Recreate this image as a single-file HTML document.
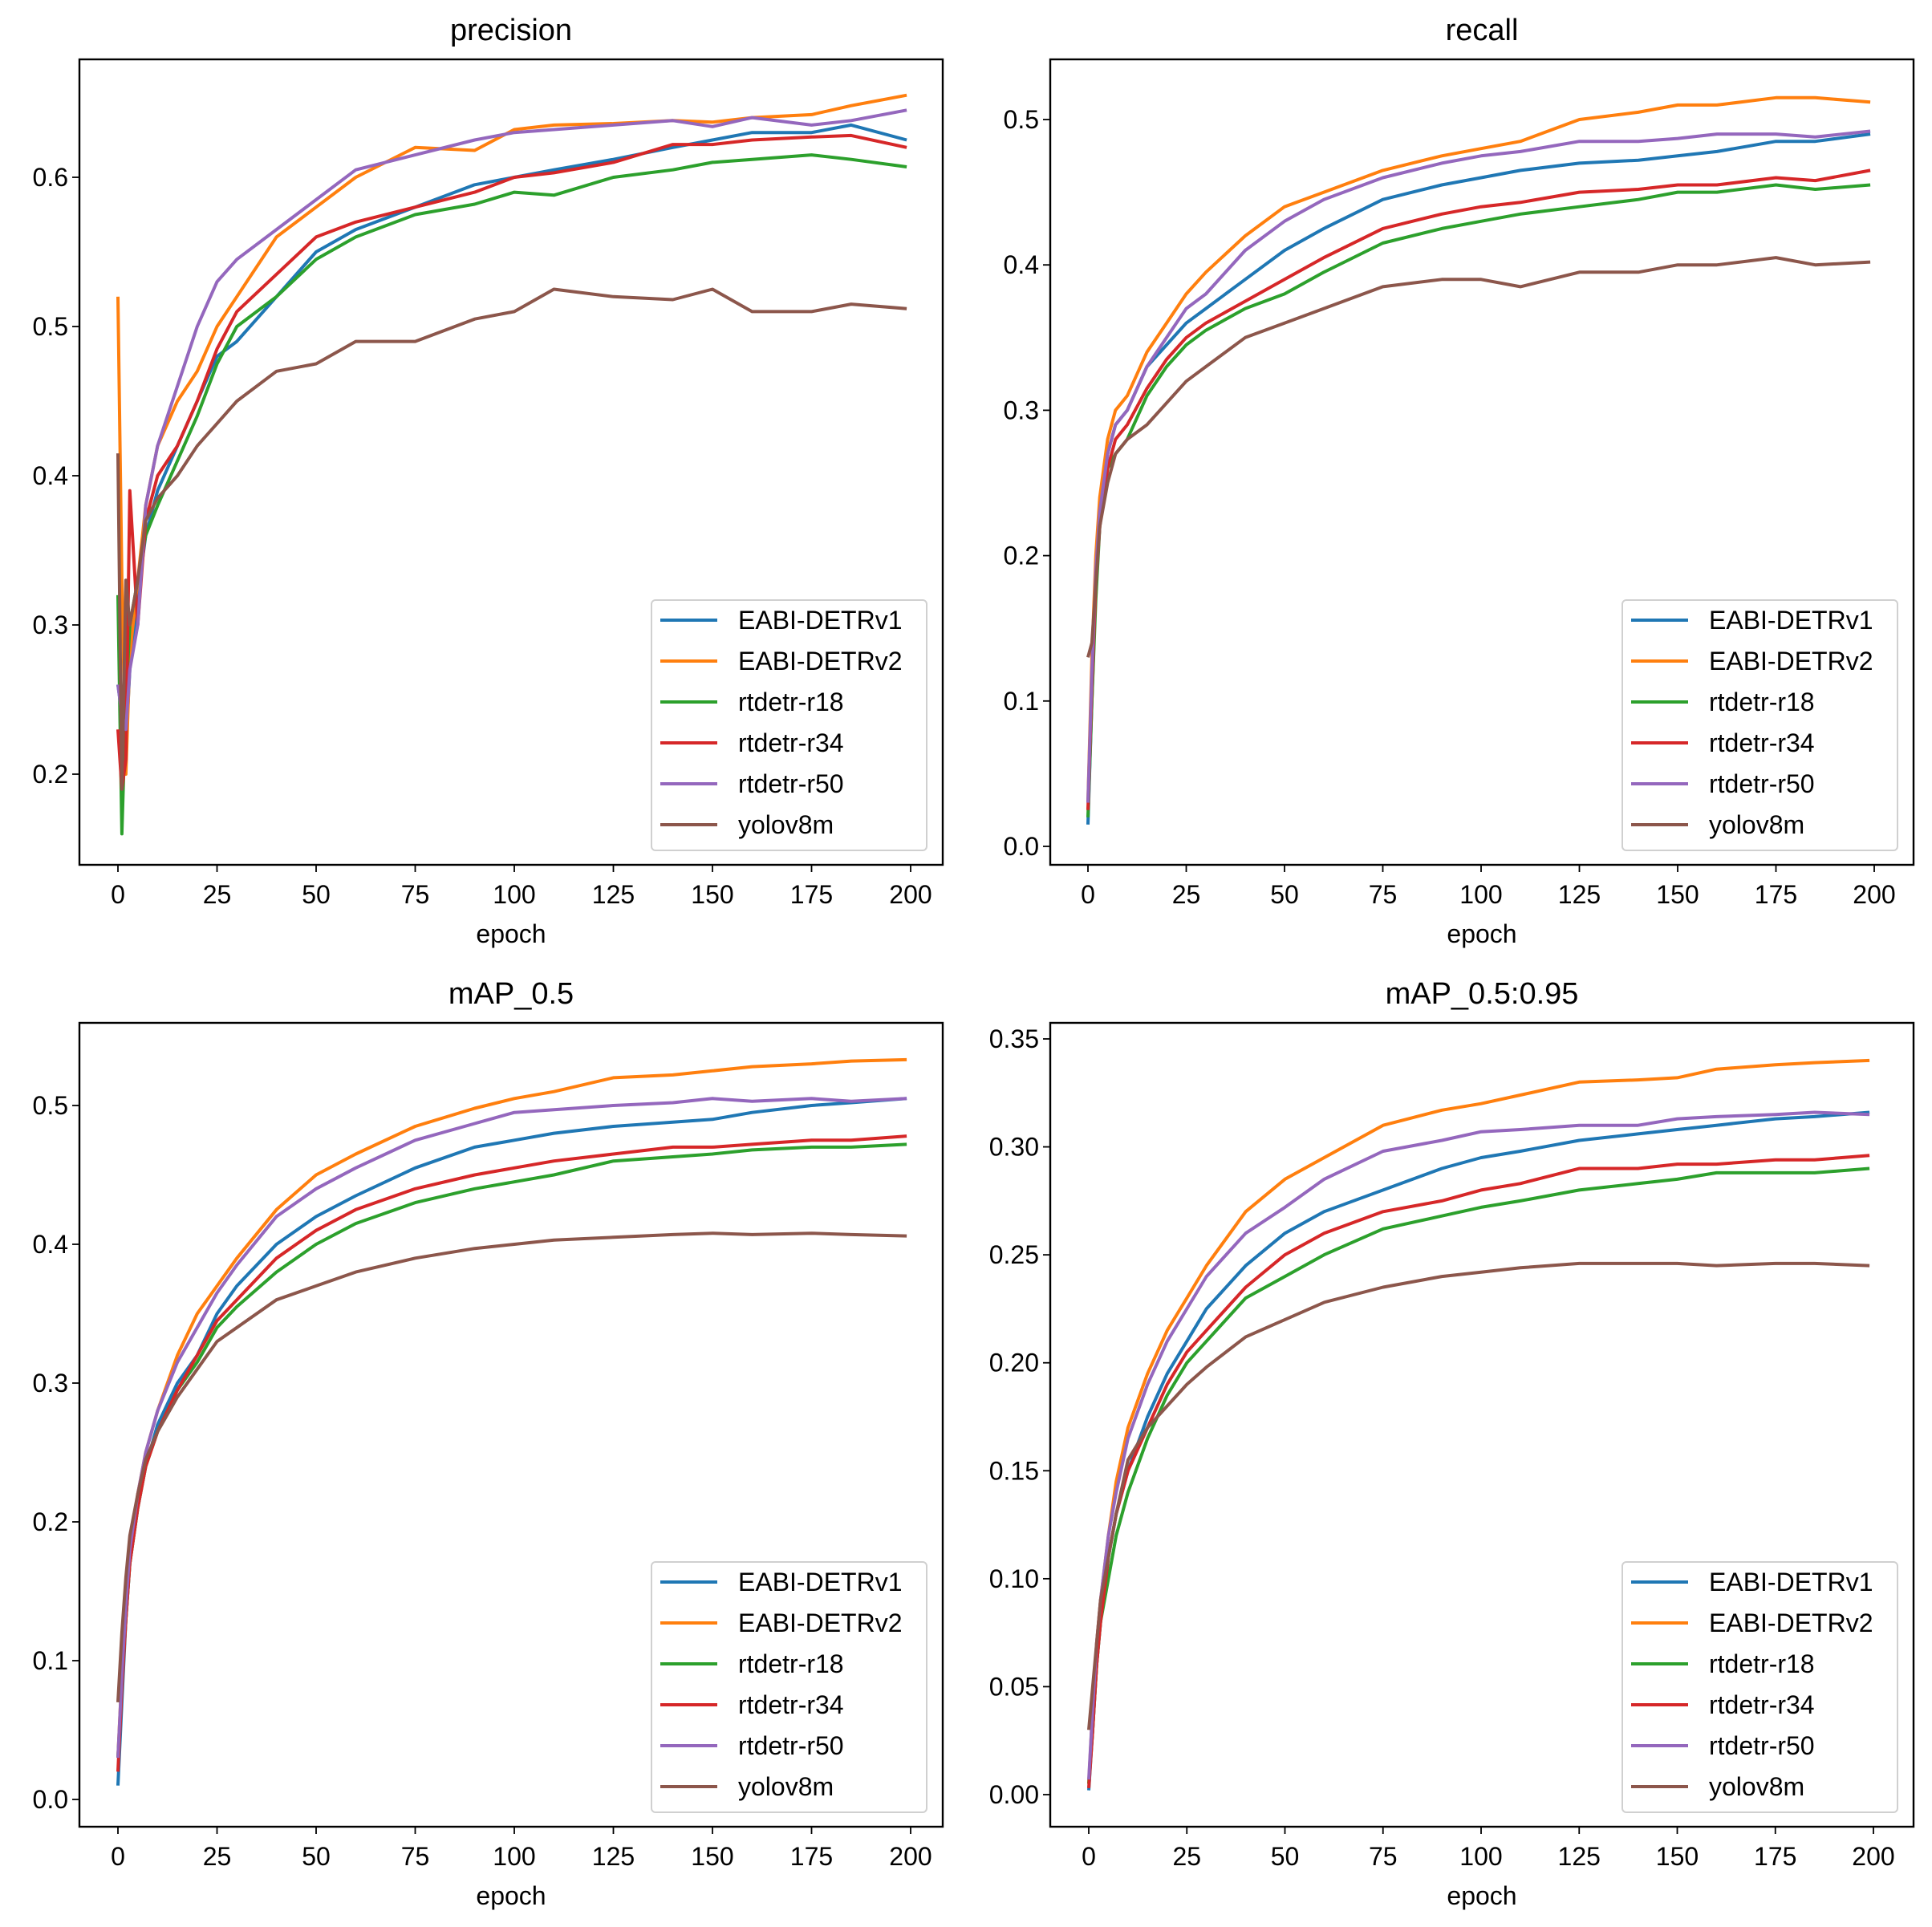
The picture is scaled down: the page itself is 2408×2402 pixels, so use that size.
<!DOCTYPE html>
<html><head><meta charset="utf-8">
<style>
body{margin:0;background:#fff;}
svg{display:block;font-family:"Liberation Sans","DejaVu Sans",sans-serif;}
</style></head>
<body>
<svg id="fig" width="2408" height="2402" viewBox="0 0 2408 2402" xmlns="http://www.w3.org/2000/svg"></svg>
<script>
const epochs=[0,1,2,3,5,7,10,15,20,25,30,40,50,60,75,90,100,110,125,140,150,160,175,185,199];
const seriesNames=["EABI-DETRv1","EABI-DETRv2","rtdetr-r18","rtdetr-r34","rtdetr-r50","yolov8m"];
const xTicks=[0,25,50,75,100,125,150,175,200];

const precision_v1=[0.26,0.24,0.22,0.27,0.32,0.36,0.39,0.42,0.45,0.48,0.49,0.52,0.55,0.565,0.58,0.595,0.60,0.605,0.612,0.62,0.625,0.63,0.63,0.635,0.625];
const precision_v2=[0.52,0.33,0.20,0.28,0.33,0.38,0.42,0.45,0.47,0.50,0.52,0.56,0.58,0.60,0.62,0.618,0.632,0.635,0.636,0.638,0.637,0.64,0.642,0.648,0.655];
const precision_r18=[0.32,0.16,0.25,0.30,0.33,0.36,0.38,0.41,0.44,0.475,0.50,0.52,0.545,0.56,0.575,0.582,0.59,0.588,0.60,0.605,0.61,0.612,0.615,0.612,0.607];
const precision_r34=[0.23,0.19,0.21,0.39,0.30,0.37,0.40,0.42,0.45,0.485,0.51,0.535,0.56,0.57,0.58,0.59,0.60,0.603,0.61,0.622,0.622,0.625,0.627,0.628,0.62];
const precision_r50=[0.26,0.24,0.23,0.27,0.30,0.38,0.42,0.46,0.50,0.53,0.545,0.565,0.585,0.605,0.615,0.625,0.63,0.632,0.635,0.638,0.634,0.64,0.635,0.638,0.645];
const precision_yolo=[0.415,0.19,0.33,0.30,0.33,0.37,0.385,0.40,0.42,0.435,0.45,0.47,0.475,0.49,0.49,0.505,0.51,0.525,0.52,0.518,0.525,0.51,0.51,0.515,0.512];
const precisionTicks=["0.2","0.3","0.4","0.5","0.6"];

const recall_v1=[0.015,0.1,0.18,0.23,0.27,0.29,0.30,0.33,0.345,0.36,0.37,0.39,0.41,0.425,0.445,0.455,0.46,0.465,0.47,0.472,0.475,0.478,0.485,0.485,0.49];
const recall_v2=[0.03,0.13,0.2,0.24,0.28,0.30,0.31,0.34,0.36,0.38,0.395,0.42,0.44,0.45,0.465,0.475,0.48,0.485,0.5,0.505,0.51,0.51,0.515,0.515,0.512];
const recall_r18=[0.02,0.1,0.17,0.22,0.26,0.27,0.28,0.31,0.33,0.345,0.355,0.37,0.38,0.395,0.415,0.425,0.43,0.435,0.44,0.445,0.45,0.45,0.455,0.452,0.455];
const recall_r34=[0.025,0.11,0.18,0.22,0.26,0.28,0.29,0.315,0.335,0.35,0.36,0.375,0.39,0.405,0.425,0.435,0.44,0.443,0.45,0.452,0.455,0.455,0.46,0.458,0.465];
const recall_r50=[0.03,0.12,0.19,0.23,0.27,0.29,0.30,0.33,0.35,0.37,0.38,0.41,0.43,0.445,0.46,0.47,0.475,0.478,0.485,0.485,0.487,0.49,0.49,0.488,0.492];
const recall_yolo=[0.13,0.14,0.18,0.22,0.25,0.27,0.28,0.29,0.305,0.32,0.33,0.35,0.36,0.37,0.385,0.39,0.39,0.385,0.395,0.395,0.4,0.40,0.405,0.40,0.402];
const recallTicks=["0.0","0.1","0.2","0.3","0.4","0.5"];

const map50_v1=[0.01,0.07,0.13,0.17,0.21,0.24,0.27,0.30,0.32,0.35,0.37,0.40,0.42,0.435,0.455,0.47,0.475,0.48,0.485,0.488,0.49,0.495,0.50,0.502,0.505];
const map50_v2=[0.03,0.09,0.14,0.18,0.22,0.25,0.28,0.32,0.35,0.37,0.39,0.425,0.45,0.465,0.485,0.498,0.505,0.51,0.52,0.522,0.525,0.528,0.53,0.532,0.533];
const map50_r18=[0.03,0.08,0.13,0.17,0.21,0.24,0.265,0.295,0.315,0.34,0.355,0.38,0.40,0.415,0.43,0.44,0.445,0.45,0.46,0.463,0.465,0.468,0.47,0.47,0.472];
const map50_r34=[0.02,0.08,0.13,0.17,0.21,0.24,0.265,0.295,0.32,0.345,0.36,0.39,0.41,0.425,0.44,0.45,0.455,0.46,0.465,0.47,0.47,0.472,0.475,0.475,0.478];
const map50_r50=[0.03,0.09,0.14,0.18,0.22,0.25,0.28,0.315,0.34,0.365,0.385,0.42,0.44,0.455,0.475,0.487,0.495,0.497,0.5,0.502,0.505,0.503,0.505,0.503,0.505];
const map50_yolo=[0.07,0.12,0.16,0.19,0.22,0.245,0.265,0.29,0.31,0.33,0.34,0.36,0.37,0.38,0.39,0.397,0.40,0.403,0.405,0.407,0.408,0.407,0.408,0.407,0.406];
const map50Ticks=["0.0","0.1","0.2","0.3","0.4","0.5"];

const map95_v1=[0.002,0.03,0.06,0.08,0.11,0.13,0.15,0.175,0.195,0.21,0.225,0.245,0.26,0.27,0.28,0.29,0.295,0.298,0.303,0.306,0.308,0.31,0.313,0.314,0.316];
const map95_v2=[0.005,0.04,0.07,0.09,0.12,0.145,0.17,0.195,0.215,0.23,0.245,0.27,0.285,0.295,0.31,0.317,0.32,0.324,0.33,0.331,0.332,0.336,0.338,0.339,0.34];
const map95_r18=[0.005,0.03,0.06,0.08,0.10,0.12,0.14,0.165,0.185,0.2,0.21,0.23,0.24,0.25,0.262,0.268,0.272,0.275,0.28,0.283,0.285,0.288,0.288,0.288,0.29];
const map95_r34=[0.003,0.03,0.06,0.08,0.11,0.13,0.15,0.17,0.19,0.205,0.215,0.235,0.25,0.26,0.27,0.275,0.28,0.283,0.29,0.29,0.292,0.292,0.294,0.294,0.296];
const map95_r50=[0.007,0.04,0.07,0.09,0.12,0.14,0.165,0.19,0.21,0.225,0.24,0.26,0.272,0.285,0.298,0.303,0.307,0.308,0.31,0.31,0.313,0.314,0.315,0.316,0.315];
const map95_yolo=[0.03,0.05,0.07,0.09,0.11,0.13,0.155,0.17,0.18,0.19,0.198,0.212,0.22,0.228,0.235,0.24,0.242,0.244,0.246,0.246,0.246,0.245,0.246,0.246,0.245];
const map95Ticks=["0.00","0.05","0.10","0.15","0.20","0.25","0.30","0.35"];

const colors=["#1f77b4","#ff7f0e","#2ca02c","#d62728","#9467bd","#8c564b"];
const NS="http://www.w3.org/2000/svg";
const fig=document.getElementById("fig");
function mk(tag,attrs,parent){const e=document.createElementNS(NS,tag);for(const k in attrs)e.setAttribute(k,attrs[k]);(parent||fig).appendChild(e);return e;}

const panels=[
 {key:"precision",title:"precision",box:[99,74,1175,1078],x0:147,x1:1135,yA:0.6,pA:221,yB:0.2,pB:965,ticks:precisionTicks,data:[precision_v1,precision_v2,precision_r18,precision_r34,precision_r50,precision_yolo]},
 {key:"recall",title:"recall",box:[1309,74,2385,1078],x0:1356,x1:2336,yA:0.5,pA:149,yB:0.0,pB:1055,ticks:recallTicks,data:[recall_v1,recall_v2,recall_r18,recall_r34,recall_r50,recall_yolo]},
 {key:"map50",title:"mAP_0.5",box:[99,1275,1175,2277],x0:147,x1:1135,yA:0.5,pA:1378,yB:0.0,pB:2243,ticks:map50Ticks,data:[map50_v1,map50_v2,map50_r18,map50_r34,map50_r50,map50_yolo]},
 {key:"map95",title:"mAP_0.5:0.95",box:[1309,1275,2385,2277],x0:1357,x1:2335,yA:0.35,pA:1295,yB:0.0,pB:2237,ticks:map95Ticks,data:[map95_v1,map95_v2,map95_r18,map95_r34,map95_r50,map95_yolo]}
];

panels.forEach(p=>{
 const [L,T,R,B]=p.box;
 const g=mk("g",{});
 
 
 const xs=v=>p.x0+(p.x1-p.x0)*v/200;
 const ys=v=>p.pB+(p.pA-p.pB)*(v-p.yB)/(p.yA-p.yB);
 const t=mk("text",{x:(L+R)/2,y:T-24,"font-size":38,"text-anchor":"middle",fill:"#000"},g);t.textContent=p.title;
 
 
 const clip=mk("clipPath",{id:"clip-"+p.key},g);mk("rect",{x:L,y:T,width:R-L,height:B-T},clip);
 const sg=mk("g",{"clip-path":"url(#clip-"+p.key+")"},g);
 p.data.forEach((arr,i)=>{
  const d=arr.map((v,j)=>(j?"L":"M")+xs(epochs[j]).toFixed(1)+","+ys(v).toFixed(1)).join(" ");
  const pl=mk("path",{d:d,fill:"none",stroke:colors[i],"stroke-width":4,"stroke-linejoin":"round"},sg);
  
  
 });
 mk("rect",{x:L,y:T,width:R-L,height:B-T,fill:"none",stroke:"#000","stroke-width":2.4},g);
 xTicks.forEach(v=>{
  const x=xs(v);
  mk("line",{x1:x,y1:B,x2:x,y2:B+9,stroke:"#000","stroke-width":1.8},g);
  const tx=mk("text",{x:x,y:B+48,"font-size":32,"text-anchor":"middle",fill:"#000"},g);tx.textContent=v;
  
  
 });
 const xl=mk("text",{x:(L+R)/2,y:B+97,"font-size":32,"text-anchor":"middle",fill:"#000"},g);xl.textContent="epoch";
 
 
 p.ticks.forEach(s=>{
  const y=ys(parseFloat(s));
  mk("line",{x1:L-9,y1:y,x2:L,y2:y,stroke:"#000","stroke-width":1.8},g);
  const ty=mk("text",{x:L-14,y:y+11,"font-size":32,"text-anchor":"end",fill:"#000"},g);ty.textContent=s;
  
  
 });
 const lw=343,lh=312,lx=R-20-lw,ly=B-18-lh;
 const lg=mk("g",{},g);
 
 
 mk("rect",{x:lx,y:ly,width:lw,height:lh,rx:5,fill:"#fff","fill-opacity":0.85,stroke:"#d0d0d0","stroke-width":2},lg);
 seriesNames.forEach((n,i)=>{
  const yy=ly+25+i*51;
  mk("line",{x1:lx+11,y1:yy,x2:lx+82,y2:yy,stroke:colors[i],"stroke-width":4},lg);
  const lt=mk("text",{x:lx+108,y:yy+11,"font-size":32,fill:"#000"},lg);lt.textContent=n;
  
  
 });
});
</script>
</body></html>
